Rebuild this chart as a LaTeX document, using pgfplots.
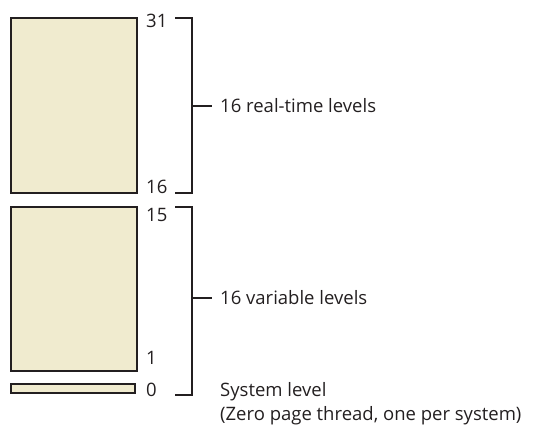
\documentclass[border=0pt]{standalone}
\usepackage{pgfplots}
\pgfplotsset{compat=1.18}
\usepackage{fontspec}
\setmainfont{Open Sans}
\definecolor{fillc}{RGB}{240,235,207}
\definecolor{linec}{RGB}{35,31,32}
\begin{document}
\begin{tikzpicture}[lbl/.style={anchor=west, inner sep=0pt, font=\fontsize{18.5}{22}\selectfont, text=linec}]
\begin{axis}[
  width=547pt, height=427pt, scale only axis,
  xmin=0, xmax=547, ymin=0, ymax=427, y dir=reverse,
  axis lines=none, clip=false,
]
% level blocks (pixel coordinates)
\addplot[fill=fillc, draw=linec, line width=2.8pt] coordinates {(11,18) (137,18) (137,193) (11,193)} -- cycle;
\addplot[fill=fillc, draw=linec, line width=2.8pt] coordinates {(11,207) (137,207) (137,371) (11,371)} -- cycle;
\addplot[fill=fillc, draw=linec, line width=2.8pt] coordinates {(11,384) (135,384) (135,393) (11,393)} -- cycle;
% brackets
\addplot[draw=linec, line width=2.8pt] coordinates {(175,18) (192,18) (192,193) (175,193)};
\addplot[draw=linec, line width=2.8pt] coordinates {(192,106) (212,106)};
\addplot[draw=linec, line width=2.8pt] coordinates {(175,207) (192,207) (192,395) (175,395)};
\addplot[draw=linec, line width=2.8pt] coordinates {(192,298) (212,298)};
% level numbers
\node[lbl] at (axis cs:146,21) {31};
\node[lbl] at (axis cs:146,187) {16};
\node[lbl] at (axis cs:146,215) {15};
\node[lbl] at (axis cs:146,358) {1};
\node[lbl] at (axis cs:146,390) {0};
% descriptions
\node[lbl] at (axis cs:220,106) {16 real-time levels};
\node[lbl] at (axis cs:220,298) {16 variable levels};
\node[lbl] at (axis cs:220,392) {System level};
\node[lbl] at (axis cs:220,416) {(Zero page thread, one per system)};
\end{axis}
\pgfresetboundingbox
\path[use as bounding box] (current axis.south west) rectangle (current axis.north east);
\end{tikzpicture}
\end{document}
